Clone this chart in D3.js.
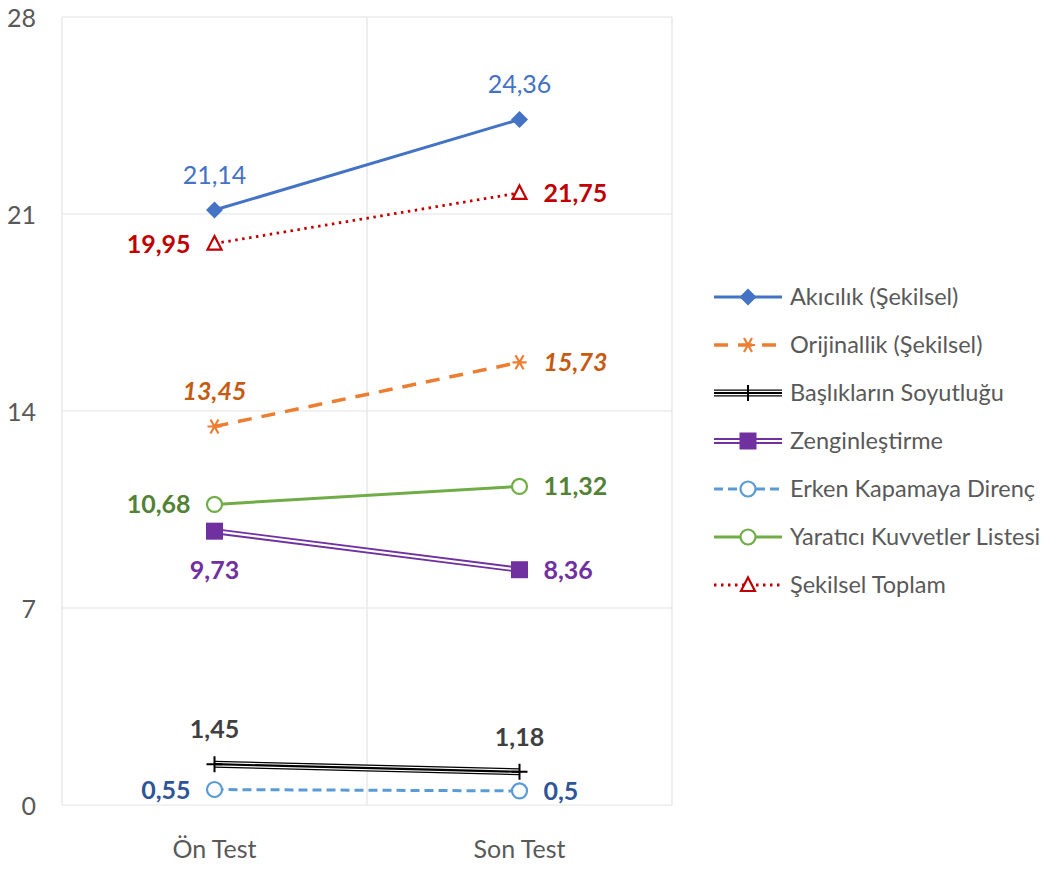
<!DOCTYPE html>
<html><head><meta charset="utf-8">
<script src="https://cdn.jsdelivr.net/npm/d3@7"></script>
<style>body{margin:0;background:#fff}svg{display:block}text{font-family:Lato,"Open Sans",sans-serif}</style>
</head><body>
<svg id="c" width="1058" height="871"></svg>
<script>
const categories = ["Ön Test", "Son Test"];
const yTicks = [0, 7, 14, 21, 28];
const seriesNames = ["Akıcılık (Şekilsel)", "Orijinallik (Şekilsel)", "Başlıkların Soyutluğu", "Zenginleştirme", "Erken Kapamaya Direnç", "Yaratıcı Kuvvetler Listesi", "Şekilsel Toplam"];
const akicilik = [21.14, 24.36];
const orijinallik = [13.45, 15.73];
const basliklar = [1.45, 1.18];
const zengin = [9.73, 8.36];
const erken = [0.55, 0.5];
const yaratici = [10.68, 11.32];
const toplam = [19.95, 21.75];
const labelTexts = {
  akicilik: ["21,14", "24,36"], orijinallik: ["13,45", "15,73"], basliklar: ["1,45", "1,18"],
  zengin: ["9,73", "8,36"], erken: ["0,55", "0,5"], yaratici: ["10,68", "11,32"], toplam: ["19,95", "21,75"]
};

const svg = d3.select("#c");
const L = 62, R = 672, T = 17, B = 805;
const x = d3.scaleBand().domain(categories).range([L, R]);
const y = d3.scaleLinear().domain([0, 28]).range([B, T]);
const cx = c => x(c) + x.bandwidth() / 2;

// gridlines
const g = svg.append("g");
yTicks.forEach(t => g.append("line").attr("x1", L).attr("x2", R).attr("y1", y(t)).attr("y2", y(t)).attr("stroke", "#e3e3e3").attr("stroke-width", 1.2));
[L, L + x.bandwidth(), R].forEach(v => g.append("line").attr("x1", v).attr("x2", v).attr("y1", T).attr("y2", B).attr("stroke", "#e3e3e3").attr("stroke-width", 1.2));

// axes labels
const yAxis = d3.axisLeft(y).tickValues(yTicks).tickSize(0).tickPadding(26);
const ya = svg.append("g").attr("transform", `translate(${L},0)`).call(yAxis);
ya.select(".domain").remove();
ya.selectAll("text").attr("font-size", 25).attr("fill", "#595959").attr("font-family", "Lato, sans-serif").attr("dy", "0.36em");
const xAxis = d3.axisBottom(x).tickSize(0).tickPadding(35);
const xa = svg.append("g").attr("transform", `translate(0,${B})`).call(xAxis);
xa.select(".domain").remove();
xa.selectAll("text").attr("font-size", 25).attr("fill", "#595959").attr("font-family", "Lato, sans-serif");

const line = d3.line().x((d, i) => cx(categories[i])).y(d => y(d));

const series = [
  {key: "akicilik", vals: akicilik, color: "#4472C4", width: 3, dash: null, marker: "diamond"},
  {key: "orijinallik", vals: orijinallik, color: "#ED7D31", width: 3.5, dash: "14,10", marker: "star"},
  {key: "basliklar", vals: basliklar, color: "#000", width: 7, dash: null, marker: "plus", compound: "triple"},
  {key: "zengin", vals: zengin, color: "#7030A0", width: 6, dash: null, marker: "square", compound: "double"},
  {key: "erken", vals: erken, color: "#5B9BD5", width: 3, dash: "9,5", marker: "circle"},
  {key: "yaratici", vals: yaratici, color: "#70AD47", width: 3, dash: null, marker: "circle"},
  {key: "toplam", vals: toplam, color: "#C00000", width: 2.8, dash: "2.5,4.5", marker: "triangle"}
];

function drawLine(sel, s, pts) {
  const p = sel.append("path").attr("d", pts).attr("fill", "none").attr("stroke", s.color).attr("stroke-width", s.width);
  if (s.dash) p.attr("stroke-dasharray", s.dash);
  if (s.compound) {
    sel.append("path").attr("d", pts).attr("fill", "none").attr("stroke", "#fff").attr("stroke-width", s.compound === "triple" ? 4.6 : 2.2);
    if (s.compound === "triple") sel.append("path").attr("d", pts).attr("fill", "none").attr("stroke", s.color).attr("stroke-width", 2.2);
  }
}
function drawMarker(sel, s, px, py, scale = 1) {
  const m = sel.append("g").attr("transform", `translate(${px},${py}) scale(${scale})`);
  if (s.marker === "diamond") m.append("path").attr("d", "M0,-8.5L8.5,0L0,8.5L-8.5,0Z").attr("fill", s.color);
  else if (s.marker === "square") m.append("rect").attr("x", -8.5).attr("y", -8.5).attr("width", 17).attr("height", 17).attr("fill", s.color);
  else if (s.marker === "circle") m.append("circle").attr("r", 7.5).attr("fill", "#fff").attr("stroke", s.color).attr("stroke-width", 2.2);
  else if (s.marker === "triangle") m.append("path").attr("d", "M0,-7.5L7,6L-7,6Z").attr("fill", "#fff").attr("stroke", s.color).attr("stroke-width", 2.2);
  else if (s.marker === "plus") m.append("path").attr("d", "M-8,0H8M0,-8V8").attr("stroke", s.color).attr("stroke-width", 2);
  else if (s.marker === "star") m.append("path").attr("d", "M-7,0H7M-4,-7L4,7M4,-7L-4,7").attr("stroke", s.color).attr("stroke-width", 2.2);
}

const plot = svg.append("g");
series.forEach(s => {
  const sg = plot.append("g");
  drawLine(sg, s, line(s.vals));
  s.vals.forEach((v, i) => drawMarker(sg, s, cx(categories[i]), y(v)));
});

// data labels
const lab = [
  {key: "akicilik", color: "#4472C4", weight: 400, style: "normal", pos: ["above", "above"]},
  {key: "orijinallik", color: "#C55A11", weight: 700, style: "italic", pos: ["above", "right"]},
  {key: "basliklar", color: "#404040", weight: 700, style: "normal", pos: ["above", "above"]},
  {key: "zengin", color: "#7030A0", weight: 700, style: "normal", pos: ["below", "right"]},
  {key: "erken", color: "#2F5597", weight: 700, style: "normal", pos: ["left", "right"]},
  {key: "yaratici", color: "#538135", weight: 700, style: "normal", pos: ["left", "right"]},
  {key: "toplam", color: "#C00000", weight: 700, style: "normal", pos: ["left", "right"]}
];
const vals = {akicilik, orijinallik, basliklar, zengin, erken, yaratici, toplam};
lab.forEach(l => {
  vals[l.key].forEach((v, i) => {
    const px = cx(categories[i]), py = y(v);
    let tx = px, ty = py, anchor = "middle";
    const pos = l.pos[i];
    if (pos === "above") { ty = py - 26; }
    else if (pos === "below") { ty = py + 48; }
    else if (pos === "left") { tx = px - 24; anchor = "end"; ty = py + 9; }
    else { tx = px + 24; anchor = "start"; ty = py + 9; }
    svg.append("text").attr("x", tx).attr("y", ty).attr("text-anchor", anchor)
      .attr("font-size", 25).attr("font-weight", l.weight).attr("font-style", l.style)
      .attr("fill", l.color).text(labelTexts[l.key][i]);
  });
});

// legend
const leg = svg.append("g");
series.forEach((s, i) => {
  const ly = 297 + i * 48;
  const lg = leg.append("g");
  drawLine(lg, s, `M714,${ly}H782`);
  drawMarker(lg, s, 748, ly);
  lg.append("text").attr("x", 790).attr("y", ly + 8).attr("font-size", 23.5).attr("fill", "#595959").text(seriesNames[i]);
});
</script>
</body></html>
